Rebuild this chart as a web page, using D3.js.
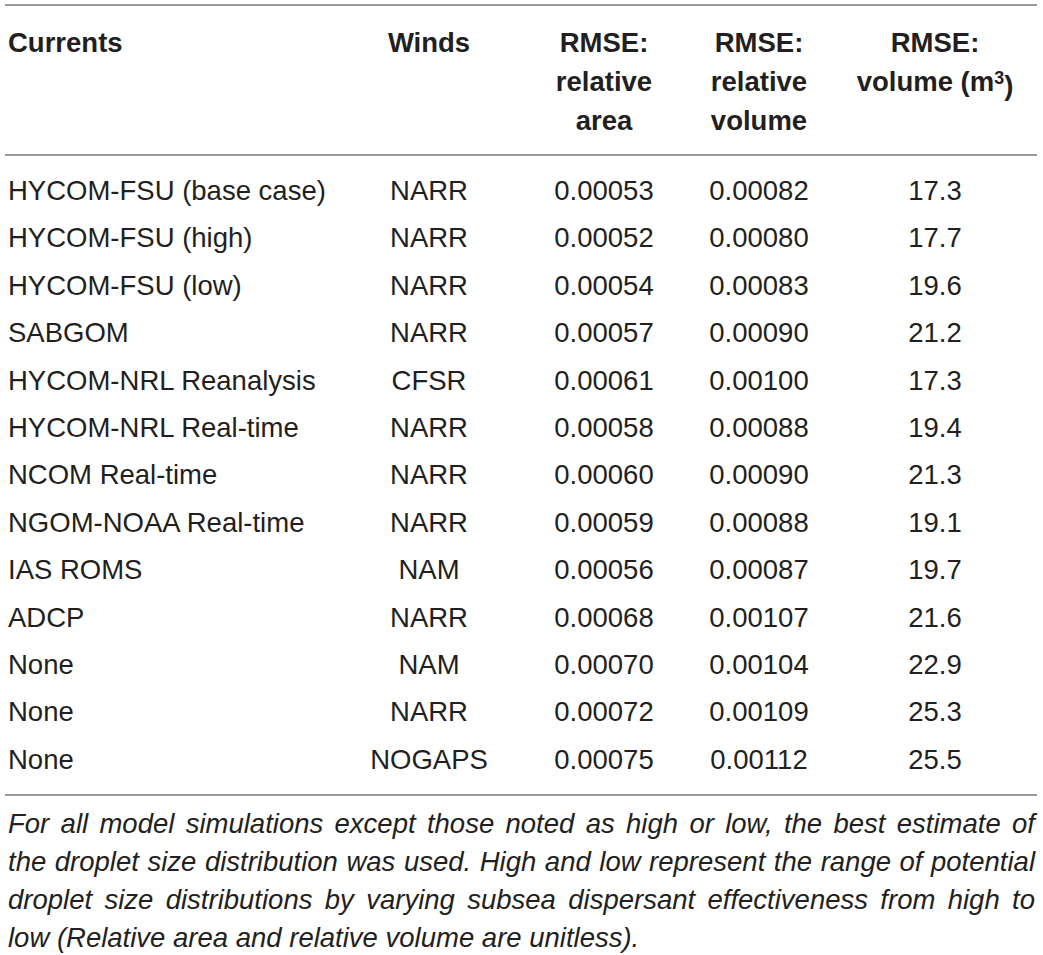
<!DOCTYPE html>
<html lang="en">
<head>
    <meta charset="UTF-8">
    <title>RMSE table</title>
    <script src="https://d3js.org/d3.v7.min.js"></script>
    <style>
        body { margin: 0; background: #fff; }
        text { font-family: "Liberation Sans", Arial, Helvetica, sans-serif; fill: #231f20; }
    </style>
</head>
<body>
<div id="chart"></div>

<script>
    // Table data
    const currents = ["HYCOM-FSU (base case)", "HYCOM-FSU (high)", "HYCOM-FSU (low)", "SABGOM",
        "HYCOM-NRL Reanalysis", "HYCOM-NRL Real-time", "NCOM Real-time", "NGOM-NOAA Real-time",
        "IAS ROMS", "ADCP", "None", "None", "None"];
    const winds = ["NARR", "NARR", "NARR", "NARR", "CFSR", "NARR", "NARR", "NARR", "NAM", "NARR",
        "NAM", "NARR", "NOGAPS"];
    const relArea = [0.00053, 0.00052, 0.00054, 0.00057, 0.00061, 0.00058, 0.00060, 0.00059,
        0.00056, 0.00068, 0.00070, 0.00072, 0.00075];
    const relVolume = [0.00082, 0.00080, 0.00083, 0.00090, 0.00100, 0.00088, 0.00090, 0.00088,
        0.00087, 0.00107, 0.00104, 0.00109, 0.00112];
    const volume = [17.3, 17.7, 19.6, 21.2, 17.3, 19.4, 21.3, 19.1, 19.7, 21.6, 22.9, 25.3, 25.5];

    const headers = [
        ["Currents"],
        ["Winds"],
        ["RMSE:", "relative", "area"],
        ["RMSE:", "relative", "volume"],
        ["RMSE:", "volume (m³)"]
    ];
    const footnote = [
        "For all model simulations except those noted as high or low, the best estimate of",
        "the droplet size distribution was used. High and low represent the range of potential",
        "droplet size distributions by varying subsea dispersant effectiveness from high to",
        "low (Relative area and relative volume are unitless)."
    ];

    const width = 1043, height = 955;
    const fontSize = 27.5;

    const svg = d3.select('#chart')
        .append('svg')
        .attr('width', width)
        .attr('height', height);

    // columns: key -> x position, anchor
    const colKeys = ["currents", "winds", "area", "relvol", "vol"];
    const x = d3.scaleOrdinal().domain(colKeys).range([8, 429, 604, 759, 935]);
    const anchor = k => k === "currents" ? "start" : "middle";

    const fmt5 = d3.format(".5f");
    const fmt1 = d3.format(".1f");

    const rows = currents.map((c, i) => ({
        currents: c,
        winds: winds[i],
        area: fmt5(relArea[i]),
        relvol: fmt5(relVolume[i]),
        vol: fmt1(volume[i])
    }));

    const y = d3.scaleBand()
        .domain(d3.range(rows.length))
        .range([166.3, 782.5]);

    // rules
    const ruleY = [5, 155, 795];
    svg.selectAll('line.rule')
        .data(ruleY)
        .join('line')
        .attr('class', 'rule')
        .attr('x1', 5).attr('x2', 1037)
        .attr('y1', d => d).attr('y2', d => d)
        .attr('stroke', '#9a9a9a')
        .attr('stroke-width', 2);

    // header
    const headLine = d3.scaleLinear().domain([0, 1]).range([42, 81]);
    colKeys.forEach((k, ci) => {
        const t = svg.append('text')
            .attr('text-anchor', anchor(k))
            .attr('font-size', fontSize)
            .attr('font-weight', 'bold');
        headers[ci].forEach((line, li) => {
            const ts = t.append('tspan')
                .attr('x', x(k))
                .attr('y', headLine(li))
                .attr('dy', '0.36em');
            if (line.includes('³')) {
                ts.text('volume (m');
                ts.append('tspan').attr('dy', '-0.4em').attr('font-size', fontSize * 0.65).text('3');
                ts.append('tspan').attr('dy', '0.4em').text(')');
            } else {
                ts.text(line);
            }
        });
    });

    // body rows
    const rowG = svg.selectAll('g.row')
        .data(rows)
        .join('g')
        .attr('class', 'row')
        .attr('transform', (d, i) => `translate(0,${y(i) + y.bandwidth() / 2})`);

    colKeys.forEach(k => {
        rowG.append('text')
            .attr('x', x(k))
            .attr('dy', '0.36em')
            .attr('text-anchor', anchor(k))
            .attr('font-size', fontSize)
            .text(d => d[k]);
    });

    // footnote, justified
    const noteY = d3.scaleLinear().domain([0, 1]).range([823, 861]);
    const left = 8, right = 1035;
    footnote.forEach((line, i) => {
        const t = svg.append('text')
            .attr('x', left)
            .attr('y', noteY(i))
            .attr('dy', '0.36em')
            .attr('font-size', fontSize)
            .attr('font-style', 'italic')
            .text(line);
        if (i < footnote.length - 1) {
            const gaps = line.split(' ').length - 1;
            const extra = (right - left - t.node().getComputedTextLength()) / gaps;
            t.attr('word-spacing', extra);
        }
    });
</script>

</body>
</html>
